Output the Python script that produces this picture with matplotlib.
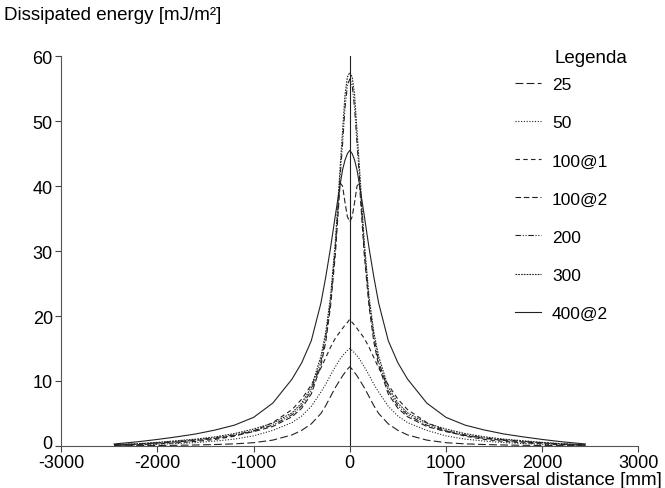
import numpy as np
import matplotlib
matplotlib.use('Agg')
import matplotlib.pyplot as plt
from matplotlib.transforms import ScaledTranslation

plt.rcParams['font.family'] = ['Liberation Sans', 'DejaVu Sans']
plt.rcParams['axes.unicode_minus'] = False

# half profile (curves are symmetric about x = 0)
x_half = [0, 25, 50, 75, 100, 150, 200, 250, 300, 400, 500, 600, 800,
          1000, 1200, 1400, 1600, 1800, 2000, 2200, 2450]

e_25 = [12.2, 11.8, 11.3, 10.8, 10.2, 9.0, 7.6, 6.2, 5.0, 3.4, 2.4, 1.7, 0.9,
        0.5, 0.32, 0.22, 0.15, 0.1, 0.07, 0.05, 0.03]
e_50 = [15.0, 14.7, 14.3, 13.9, 13.4, 12.2, 10.9, 9.5, 8.3, 6.1, 4.6, 3.6, 2.4,
        1.55, 1.05, 0.75, 0.52, 0.37, 0.26, 0.16, 0.08]
e_100_1 = [19.5, 19.0, 18.6, 18.1, 17.6, 16.6, 15.2, 13.6, 12.0, 9.4, 7.2, 5.6, 3.6,
           2.3, 1.5, 1.0, 0.7, 0.48, 0.32, 0.2, 0.1]
e_100_2 = [34.5, 35.3, 37.5, 40.0, 40.5, 29.5, 21.5, 16.0, 12.4, 8.0, 5.8, 4.5, 3.0,
           2.2, 1.6, 1.15, 0.85, 0.62, 0.45, 0.28, 0.15]
e_200 = [56.5, 55.5, 52.0, 46.5, 41.5, 30.5, 22.2, 16.8, 13.0, 8.5, 6.2, 4.8, 3.2,
         2.35, 1.7, 1.25, 0.95, 0.7, 0.5, 0.3, 0.18]
e_300 = [57.5, 56.8, 54.0, 48.5, 43.0, 31.5, 23.0, 17.5, 13.8, 9.0, 6.6, 5.1, 3.5,
         2.6, 1.9, 1.4, 1.05, 0.8, 0.55, 0.35, 0.2]
e_400_2 = [45.5, 45.0, 44.0, 42.5, 40.3, 35.5, 30.5, 26.0, 22.0, 16.2, 12.8, 10.3, 6.6,
           4.4, 3.2, 2.45, 1.85, 1.4, 1.0, 0.65, 0.3]

labels = ['25', '50', '100@1', '100@2', '200', '300', '400@2']
series = [e_25, e_50, e_100_1, e_100_2, e_200, e_300, e_400_2]
styles = [(0, (7, 3)), (0, (1, 1.5)), (0, (4, 3)), (0, (5, 2.5)),
          (0, (5, 1.5, 1, 1.5, 1, 1.5)), (0, (1.5, 1)), '-']


def mirror(xs, ys):
    xs = np.asarray(xs, dtype=float)
    ys = np.asarray(ys, dtype=float)
    return (np.concatenate([-xs[::-1], xs[1:]]),
            np.concatenate([ys[::-1], ys[1:]]))


fig = plt.figure(figsize=(6.65, 4.89), dpi=100)
ax = fig.add_axes([0.092, 0.086, 0.868, 0.797])

for lab, vals, ls in zip(labels, series, styles):
    xx, yy = mirror(x_half, vals)
    ax.plot(xx, yy, color='#222222', lw=0.8, linestyle=ls, label=lab)

ax.axvline(0, color='#222222', lw=0.8)

ax.set_xlim(-3000, 3000)
ax.set_ylim(0, 60)
ax.set_xticks([-3000, -2000, -1000, 0, 1000, 2000, 3000])
ax.set_yticks([0, 10, 20, 30, 40, 50, 60])
ax.tick_params(labelsize=13, length=4, width=0.8, color='#444444')
ax.tick_params(axis='x', pad=2)
ax.tick_params(axis='y', pad=2)
for side in ['top', 'right']:
    ax.spines[side].set_visible(False)
for side in ['left', 'bottom']:
    ax.spines[side].set_color('#555555')
    ax.spines[side].set_linewidth(0.8)

# lift the "0" of the y axis a little, as in the original
ylab0 = ax.get_yticklabels()[0]
ylab0.set_transform(ylab0.get_transform() + ScaledTranslation(0, 3 / 72, fig.dpi_scale_trans))

fig.text(0.006, 0.968, 'Dissipated energy [mJ/m²]', fontsize=13.5, va='center', ha='left')
fig.text(0.996, 0.018, 'Transversal distance [mm]', fontsize=13.5, va='center', ha='right')
fig.text(0.834, 0.880, 'Legenda', fontsize=13.5, va='center', ha='left')

ax.legend(loc='upper left', bbox_to_anchor=(0.762, 0.858), bbox_transform=fig.transFigure,
          frameon=False, fontsize=12.5, handlelength=1.5, handletextpad=0.6,
          labelspacing=1.32, borderpad=0)

fig.savefig('out.png', dpi=100)
